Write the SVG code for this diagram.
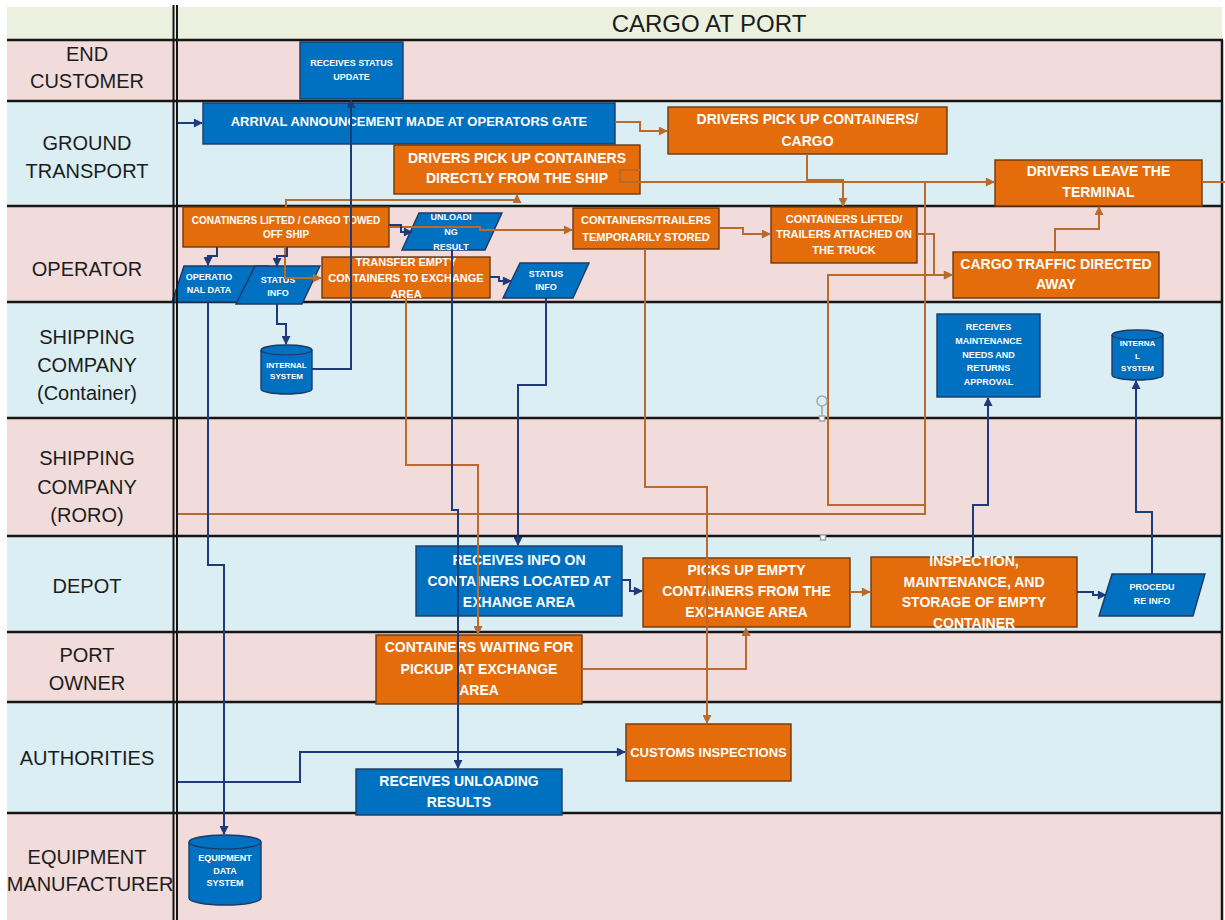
<svg xmlns="http://www.w3.org/2000/svg" width="1225" height="920" viewBox="0 0 1225 920">
  <style>
    .pk { fill: #F2DCDB; }
    .bl { fill: #DAEEF3; }
    .hd { fill: #EBF1DE; }
    .sep { stroke: #161616; stroke-width: 2.5; }
    .lbl { font-family: "Liberation Sans", Arial, sans-serif; font-size: 20px; fill: #1c1c1c; text-anchor: middle; }
    .ttl { font-family: "Liberation Sans", Arial, sans-serif; font-size: 24px; fill: #1c1c1c; text-anchor: middle; }
    .ob { fill: #E46C0A; stroke: #6E380E; stroke-width: 1.4; }
    .bb { fill: #0070C0; stroke: #1F3864; stroke-width: 1.4; }
    .t { font-family: "Liberation Sans", Arial, sans-serif; font-weight: bold; fill: #FFFFFF; text-anchor: middle; }
    .cb { fill: none; stroke: #1F3A7A; stroke-width: 2; }
    .co { fill: none; stroke: #BA6A2C; stroke-width: 2; }
    .ab { marker-end: url(#arrB); }
    .ao { marker-end: url(#arrO); }
  </style>
  <defs>
    <marker id="arrB" viewBox="0 0 10 10" refX="9" refY="5" markerWidth="10" markerHeight="9" markerUnits="userSpaceOnUse" orient="auto">
      <path d="M0,0 L10,5 L0,10 z" fill="#1F3A7A"/>
    </marker>
    <marker id="arrO" viewBox="0 0 10 10" refX="9" refY="5" markerWidth="10" markerHeight="9" markerUnits="userSpaceOnUse" orient="auto">
      <path d="M0,0 L10,5 L0,10 z" fill="#BA6A2C"/>
    </marker>
  </defs>

  <!-- swimlane backgrounds -->
  <g id="lanes">
    <rect x="0" y="0" width="1225" height="920" fill="#FFFFFF"/>
    <rect class="hd" x="7" y="7" width="1215" height="33"/>
    <rect class="pk" x="7" y="40" width="1215" height="61"/>
    <rect class="bl" x="7" y="101" width="1215" height="105"/>
    <rect class="pk" x="7" y="206" width="1215" height="96"/>
    <rect class="bl" x="7" y="302" width="1215" height="116"/>
    <rect class="pk" x="7" y="418" width="1215" height="118"/>
    <rect class="bl" x="7" y="536" width="1215" height="96"/>
    <rect class="pk" x="7" y="632" width="1215" height="70"/>
    <rect class="bl" x="7" y="702" width="1215" height="111"/>
    <rect class="pk" x="7" y="813" width="1215" height="107"/>
    <g class="sep">
      <line x1="7" y1="40" x2="1223" y2="40"/>
      <line x1="7" y1="101" x2="1223" y2="101"/>
      <line x1="7" y1="206" x2="1223" y2="206"/>
      <line x1="7" y1="302" x2="1223" y2="302"/>
      <line x1="7" y1="418" x2="1223" y2="418"/>
      <line x1="7" y1="536" x2="1223" y2="536"/>
      <line x1="7" y1="632" x2="1223" y2="632"/>
      <line x1="7" y1="702" x2="1223" y2="702"/>
      <line x1="7" y1="813" x2="1223" y2="813"/>
      <line x1="1222" y1="40" x2="1222" y2="920"/>
    </g>
    <text class="ttl" x="709" y="32">CARGO AT PORT</text>
    <text class="lbl" x="87" y="61">END</text>
    <text class="lbl" x="87" y="88">CUSTOMER</text>
    <text class="lbl" x="87" y="150">GROUND</text>
    <text class="lbl" x="87" y="178">TRANSPORT</text>
    <text class="lbl" x="87" y="276">OPERATOR</text>
    <text class="lbl" x="87" y="344">SHIPPING</text>
    <text class="lbl" x="87" y="372">COMPANY</text>
    <text class="lbl" x="87" y="400">(Container)</text>
    <text class="lbl" x="87" y="465">SHIPPING</text>
    <text class="lbl" x="87" y="494">COMPANY</text>
    <text class="lbl" x="87" y="522">(RORO)</text>
    <text class="lbl" x="87" y="593">DEPOT</text>
    <text class="lbl" x="87" y="662">PORT</text>
    <text class="lbl" x="87" y="690">OWNER</text>
    <text class="lbl" x="87" y="765">AUTHORITIES</text>
    <text class="lbl" x="87" y="864">EQUIPMENT</text>
    <text class="lbl" x="90" y="891">MANUFACTURER</text>
  </g>

  <!-- process steps -->
  <g id="receives-status-update">
    <rect class="bb" x="300" y="42" width="103" height="57"/>
    <text class="t" font-size="9" x="351.5" y="66">RECEIVES STATUS</text>
    <text class="t" font-size="9" x="351.5" y="80">UPDATE</text>
  </g>
  <g id="arrival-announcement">
    <rect class="bb" x="203" y="103" width="412" height="41"/>
    <text class="t" font-size="13" x="409" y="126">ARRIVAL ANNOUNCEMENT MADE AT OPERATORS GATE</text>
  </g>
  <g id="drivers-pick-up-cargo">
    <rect class="ob" x="668" y="107" width="279" height="47"/>
    <text class="t" font-size="14" x="807.5" y="124">DRIVERS PICK UP CONTAINERS/</text>
    <text class="t" font-size="14" x="807.5" y="146">CARGO</text>
  </g>
  <g id="drivers-pick-up-ship">
    <rect class="ob" x="394" y="145" width="246" height="49"/>
    <text class="t" font-size="14" x="517" y="163">DRIVERS PICK UP CONTAINERS</text>
    <text class="t" font-size="14" x="517" y="183">DIRECTLY FROM THE SHIP</text>
  </g>
  <g id="drivers-leave">
    <rect class="ob" x="995" y="160" width="207" height="46"/>
    <text class="t" font-size="14" x="1098.5" y="176">DRIVERS LEAVE THE</text>
    <text class="t" font-size="14" x="1098.5" y="197">TERMINAL</text>
  </g>
  <g id="containers-lifted-off-ship">
    <rect class="ob" x="183" y="207" width="206" height="40"/>
    <text class="t" font-size="10" x="286" y="224">CONATINERS LIFTED / CARGO TOWED</text>
    <text class="t" font-size="10" x="286" y="238">OFF SHIP</text>
  </g>
  <g id="unloading-result">
    <polygon class="bb" points="419,213 502,213 485,250 402,250"/>
    <text class="t" font-size="9" x="451" y="220">UNLOADI</text>
    <text class="t" font-size="9" x="451" y="235">NG</text>
    <text class="t" font-size="9" x="451" y="250">RESULT</text>
  </g>
  <g id="operational-data">
    <polygon class="bb" points="184,266 268,266 256,302 172,302"/>
    <text class="t" font-size="9" x="209" y="280">OPERATIO</text>
    <text class="t" font-size="9" x="209" y="293">NAL DATA</text>
  </g>
  <g id="status-info-1">
    <polygon class="bb" points="255,266 320,266 302,304 236,304"/>
    <text class="t" font-size="9" x="278" y="283">STATUS</text>
    <text class="t" font-size="9" x="278" y="296">INFO</text>
  </g>
  <g id="transfer-empty">
    <rect class="ob" x="322" y="257" width="168" height="41"/>
    <text class="t" font-size="11" x="406" y="266">TRANSFER EMPTY</text>
    <text class="t" font-size="11" x="406" y="282">CONTAINERS TO EXCHANGE</text>
    <text class="t" font-size="11" x="406" y="298">AREA</text>
  </g>
  <g id="status-info-2">
    <polygon class="bb" points="520,263 589,263 573,298 503,298"/>
    <text class="t" font-size="9" x="546" y="277">STATUS</text>
    <text class="t" font-size="9" x="546" y="290">INFO</text>
  </g>
  <g id="temporarily-stored">
    <rect class="ob" x="573" y="208" width="146" height="41"/>
    <text class="t" font-size="11" x="646" y="224">CONTAINERS/TRAILERS</text>
    <text class="t" font-size="11" x="646" y="241">TEMPORARILY STORED</text>
  </g>
  <g id="trailers-attached">
    <rect class="ob" x="771" y="207" width="146" height="56"/>
    <text class="t" font-size="11" x="844" y="223">CONTAINERS LIFTED/</text>
    <text class="t" font-size="11" x="844" y="238">TRAILERS ATTACHED ON</text>
    <text class="t" font-size="11" x="844" y="254">THE TRUCK</text>
  </g>
  <g id="cargo-traffic">
    <rect class="ob" x="953" y="252" width="206" height="46"/>
    <text class="t" font-size="14" x="1056" y="269">CARGO TRAFFIC DIRECTED</text>
    <text class="t" font-size="14" x="1056" y="289">AWAY</text>
  </g>
  <g id="internal-system-1">
    <path class="bb" d="M261,350 A25.5,5 0 0 1 312,350 V389 A25.5,5 0 0 1 261,389 Z"/>
    <path d="M261,350 A25.5,5 0 0 0 312,350" fill="none" stroke="#1F3864" stroke-width="1.2"/>
    <text class="t" font-size="8" x="286.5" y="368">INTERNAL</text>
    <text class="t" font-size="8" x="286.5" y="379">SYSTEM</text>
  </g>
  <g id="maintenance-approval">
    <rect class="bb" x="937" y="314" width="103" height="83"/>
    <text class="t" font-size="9" x="988.5" y="330">RECEIVES</text>
    <text class="t" font-size="9" x="988.5" y="344">MAINTENANCE</text>
    <text class="t" font-size="9" x="988.5" y="358">NEEDS AND</text>
    <text class="t" font-size="9" x="988.5" y="371">RETURNS</text>
    <text class="t" font-size="9" x="988.5" y="385">APPROVAL</text>
  </g>
  <g id="internal-system-2">
    <path class="bb" d="M1112,335 A25.5,5 0 0 1 1163,335 V375 A25.5,5 0 0 1 1112,375 Z"/>
    <path d="M1112,335 A25.5,5 0 0 0 1163,335" fill="none" stroke="#1F3864" stroke-width="1.2"/>
    <text class="t" font-size="8" x="1137.5" y="346">INTERNA</text>
    <text class="t" font-size="8" x="1137.5" y="359">L</text>
    <text class="t" font-size="8" x="1137.5" y="371">SYSTEM</text>
  </g>
  <g id="receives-info-exchange">
    <rect class="bb" x="416" y="546" width="206" height="70"/>
    <text class="t" font-size="14" x="519" y="565">RECEIVES INFO ON</text>
    <text class="t" font-size="14" x="519" y="586">CONTAINERS LOCATED AT</text>
    <text class="t" font-size="14" x="519" y="607">EXHANGE AREA</text>
  </g>
  <g id="picks-up-empty">
    <rect class="ob" x="643" y="558" width="207" height="69"/>
    <text class="t" font-size="14" x="746.5" y="575">PICKS UP EMPTY</text>
    <text class="t" font-size="14" x="746.5" y="596">CONTAINERS FROM THE</text>
    <text class="t" font-size="14" x="746.5" y="617">EXCHANGE AREA</text>
  </g>
  <g id="inspection-storage">
    <rect class="ob" x="871" y="557" width="206" height="70"/>
    <text class="t" font-size="14" x="974" y="566">INSPECTION,</text>
    <text class="t" font-size="14" x="974" y="587">MAINTENANCE, AND</text>
    <text class="t" font-size="14" x="974" y="607">STORAGE OF EMPTY</text>
    <text class="t" font-size="14" x="974" y="628">CONTAINER</text>
  </g>
  <g id="procedure-info">
    <polygon class="bb" points="1112,574 1205,574 1193,616 1099,616"/>
    <text class="t" font-size="9" x="1152" y="590">PROCEDU</text>
    <text class="t" font-size="9" x="1152" y="604">RE INFO</text>
  </g>
  <g id="containers-waiting">
    <rect class="ob" x="376" y="635" width="206" height="69"/>
    <text class="t" font-size="14" x="479" y="652">CONTAINERS WAITING FOR</text>
    <text class="t" font-size="14" x="479" y="674">PICKUP AT EXCHANGE</text>
    <text class="t" font-size="14" x="479" y="695">AREA</text>
  </g>
  <g id="customs-inspections">
    <rect class="ob" x="626" y="724" width="165" height="57"/>
    <text class="t" font-size="13" x="708.5" y="757">CUSTOMS INSPECTIONS</text>
  </g>
  <g id="receives-unloading-results">
    <rect class="bb" x="356" y="769" width="206" height="46"/>
    <text class="t" font-size="14" x="459" y="786">RECEIVES UNLOADING</text>
    <text class="t" font-size="14" x="459" y="807">RESULTS</text>
  </g>
  <g id="equipment-data-system">
    <path class="bb" d="M189,842 A36,7 0 0 1 261,842 V898 A36,7 0 0 1 189,898 Z"/>
    <path d="M189,842 A36,7 0 0 0 261,842" fill="none" stroke="#1F3864" stroke-width="1.2"/>
    <text class="t" font-size="9" x="225" y="861">EQUIPMENT</text>
    <text class="t" font-size="9" x="225" y="874">DATA</text>
    <text class="t" font-size="9" x="225" y="886">SYSTEM</text>
  </g>

  <!-- connectors -->
  <g id="connectors">
    <!-- orange flow -->
    <path class="co ao" d="M615,122 H640 V131 H667"/>
    <path class="co ao" d="M807,154 V180 H843 V206"/>
    <path class="co ao" d="M640,170 H620 V182 H994"/>
    <path class="co" d="M1202,182 H1225"/>
    <path class="co ao" d="M286,207 V200 H517 V195"/>
    <path class="co ao" d="M389,227 H480 V230 H572"/>
    <path class="co ao" d="M719,228 H743 V234 H770"/>
    <path class="co ao" d="M917,234 H934 V275 H952"/>
    <path class="co ao" d="M1055,252 V229 H1099 V207"/>
    <path class="co" d="M177,514 H925 V182"/>
    <path class="co ao" d="M925,505 H828 V275 H952"/>
    <path class="co ao" d="M285,247 V278 H321"/>
    <path class="co ao" d="M406,298 V465 H478 V634"/>
    <path class="co ao" d="M645,249 V487 H707 V723"/>
    <path class="co ao" d="M582,669 H746 V628"/>
    <path class="co ao" d="M850,592 H870"/>
    <!-- blue information flow -->
    <path class="cb ab" d="M177,123 H202"/>
    <path class="cb ab" d="M312,369 H351 V100"/>
    <path class="cb ab" d="M217,247 V256 H208 V265"/>
    <path class="cb ab" d="M287,247 V256 H277 V266"/>
    <path class="cb ab" d="M389,225 H401 V232 H412"/>
    <path class="cb ab" d="M452,250 V510 H458 V768"/>
    <path class="cb ab" d="M490,277 H499 V281 H511"/>
    <path class="cb ab" d="M546,298 V385 H518 V545"/>
    <path class="cb ab" d="M208,302 V565 H224 V834"/>
    <path class="cb ab" d="M277,304 V324 H286 V344"/>
    <path class="cb ab" d="M622,580 H630 V591 H642"/>
    <path class="cb ab" d="M1077,592 H1093 V595 H1106"/>
    <path class="cb ab" d="M973,557 V505 H988 V398"/>
    <path class="cb ab" d="M1152,574 V512 H1136 V381"/>
    <path class="cb ab" d="M177,782 H300 V752 H625"/>
  </g>

  <!-- column divider drawn over the lanes -->
  <g id="divider" class="sep">
    <line x1="173.5" y1="5" x2="173.5" y2="920" stroke-width="2"/>
    <line x1="177" y1="5" x2="177" y2="920" stroke-width="2"/>
  </g>

  <!-- selection handle -->
  <g id="handle" fill="#FFFFFF" stroke="#A6A6A6" stroke-width="1.5">
    <circle cx="822" cy="401" r="5" fill="none"/>
    <line x1="822" y1="406" x2="822" y2="416"/>
    <rect x="819.5" y="416" width="5" height="5"/>
    <rect x="820.5" y="535" width="5" height="5"/>
  </g>
</svg>
